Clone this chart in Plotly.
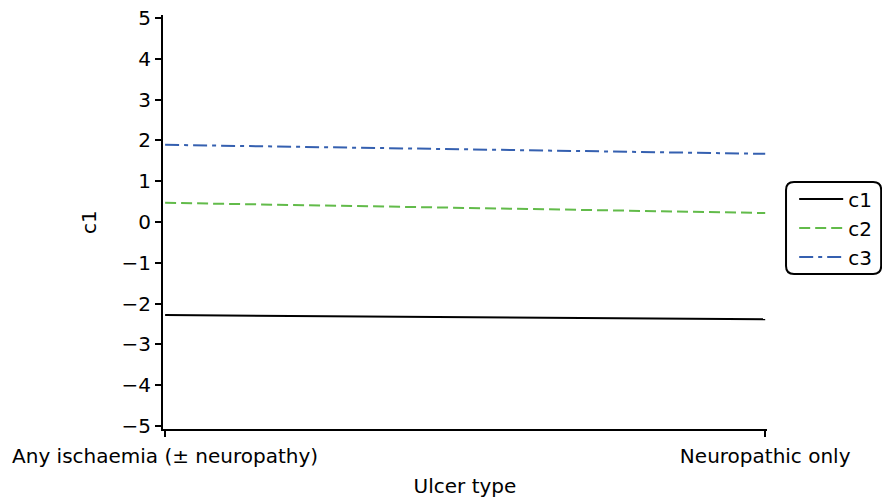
import plotly.graph_objects as go

categories = ["Any ischaemia (± neuropathy)", "Neuropathic only"]
series_names = ["c1", "c2", "c3"]
c1 = [-2.28, -2.38]
c2 = [0.47, 0.22]
c3 = [1.89, 1.67]
y_ticks = [-5, -4, -3, -2, -1, 0, 1, 2, 3, 4, 5]
y_ticklabels = ["\u22125", "\u22124", "\u22123", "\u22122", "\u22121", "0", "1", "2", "3", "4", "5"]

FONT = "DejaVu Sans"
FS = 20
styles = [
    dict(color="#000000", dash="solid"),
    dict(color="#62bb4a", dash="11px,5px"),
    dict(color="#3560b0", dash="14px,5px,4px,5px"),
]

fig = go.Figure()
for name, vals, st in zip(series_names, [c1, c2, c3], styles):
    fig.add_trace(go.Scatter(
        x=categories, y=vals, name=name, mode="lines",
        line=dict(color=st["color"], dash=st["dash"], width=2),
    ))

fig.update_layout(
    width=882, height=502,
    margin=dict(l=163, r=115, t=15, b=73, autoexpand=False),
    plot_bgcolor="white", paper_bgcolor="white",
    font=dict(family=FONT, size=FS, color="black"),
    showlegend=True,
    legend=dict(
        x=1.045, y=0.4855, xanchor="left", yanchor="middle",
        bgcolor="rgba(0,0,0,0)", borderwidth=0,
        font=dict(family=FONT, size=FS, color="black"), tracegroupgap=0, itemwidth=44,
    ),
    xaxis=dict(
        type="category", range=[-0.0035, 1.003], automargin=False,
        showline=True, linecolor="black", linewidth=2,
        ticks="outside", ticklen=6, tickwidth=2, tickcolor="black",
        tickfont=dict(family=FONT, size=FS, color="black"),
        ticklabelstandoff=2, ticklabeloverflow="allow",
        showgrid=False, zeroline=False,
        title=dict(text="Ulcer type", standoff=12, font=dict(family=FONT, size=FS, color="black")),
    ),
    yaxis=dict(
        range=[-5.07, 5.07], automargin=False,
        tickvals=y_ticks, ticktext=y_ticklabels,
        showline=True, linecolor="black", linewidth=2,
        ticks="outside", ticklen=6, tickwidth=2, tickcolor="black",
        tickfont=dict(family=FONT, size=FS, color="black"),
        ticklabeloverflow="allow",
        showgrid=False, zeroline=False,
        title=dict(text="c1", standoff=20, font=dict(family=FONT, size=FS, color="black")),
    ),
    shapes=[dict(
        type="path", xref="paper", yref="paper",
        path="M 1.0447,0.5966 L 1.1758,0.5966 Q 1.189,0.5966 1.189,0.5773 L 1.189,0.3937 "
             "Q 1.189,0.3744 1.1758,0.3744 L 1.0447,0.3744 Q 1.0315,0.3744 1.0315,0.3937 "
             "L 1.0315,0.5773 Q 1.0315,0.5966 1.0447,0.5966 Z",
        line=dict(color="black", width=2),
    )],
)

fig.write_html("out.html", config={"displayModeBar": False},
               post_script="document.body.style.margin='0';")
